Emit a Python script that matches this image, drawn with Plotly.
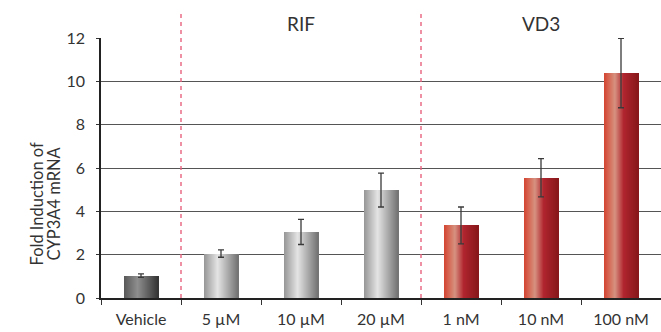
import plotly.graph_objects as go

categories = ["Vehicle", "5 µM", "10 µM", "20 µM", "1 nM", "10 nM", "100 nM"]
values = [1.03, 2.05, 3.05, 4.98, 3.35, 5.55, 10.38]
errors = [0.08, 0.17, 0.58, 0.78, 0.85, 0.88, 1.6]
groups = ["veh", "rif", "rif", "rif", "vd3", "vd3", "vd3"]
ytitle_lines = ["Fold Induction of", "CYP3A4 mRNA"]

gradients = {
    "veh": [(0.0, (88, 88, 88)), (0.4, (142, 142, 142)), (1.0, (52, 52, 52))],
    "rif": [(0.0, (150, 150, 150)), (0.4, (228, 228, 228)), (1.0, (114, 114, 114))],
    "vd3": [(0.0, (212, 68, 48)), (0.32, (214, 146, 128)), (0.58, (176, 36, 46)), (1.0, (135, 24, 26))],
}

def grad_color(stops, t):
    for (p0, c0), (p1, c1) in zip(stops[:-1], stops[1:]):
        if p0 <= t <= p1:
            f = (t - p0) / (p1 - p0)
            c = [round(a + (b - a) * f) for a, b in zip(c0, c1)]
            return "rgb(%d,%d,%d)" % tuple(c)
    c = stops[-1][1]
    return "rgb(%d,%d,%d)" % c

fig = go.Figure()
bar_w = 0.425
n = 34
step = bar_w / n
for i in range(n):
    t = (i + 0.5) / n
    fig.add_trace(go.Bar(
        x=categories, y=values,
        width=step * 1.15, offset=-bar_w / 2 + i * step,
        marker=dict(color=[grad_color(gradients[g], t) for g in groups], line=dict(width=0)),
        showlegend=False, hoverinfo="skip",
    ))

fig.add_trace(go.Scatter(
    x=categories, y=values, mode="markers",
    marker=dict(size=1, opacity=0),
    error_y=dict(type="data", array=errors, color="#3a3a3a", thickness=1.3, width=3),
    showlegend=False,
))

for xpos in [0.5, 3.5]:
    fig.add_shape(type="line", xref="x", yref="paper", x0=xpos, x1=xpos, y0=0, y1=1.108,
                  line=dict(color="#e8637f", width=1.4, dash="4px,4px"))

fig.add_annotation(x=2, xref="x", y=1.057, yref="paper", text="RIF", showarrow=False,
                   font=dict(size=19, color="#333"), yanchor="middle")
fig.add_annotation(x=5, xref="x", y=1.057, yref="paper", text="VD3", showarrow=False,
                   font=dict(size=19, color="#333"), yanchor="middle")

for xp, line in zip([-0.1143, -0.0839], ytitle_lines):
    fig.add_annotation(x=xp, xref="paper", y=0.3635, yref="paper", text=line, textangle=-90,
                       showarrow=False, font=dict(size=16.5, color="#333"),
                       xanchor="center", yanchor="middle")

fig.update_layout(
    width=661, height=332,
    margin=dict(l=101, r=0, t=38, b=34, autoexpand=False),
    barmode="overlay", bargap=0,
    plot_bgcolor="white", paper_bgcolor="white",
    font=dict(family="Lato", size=14, color="#333"),
    xaxis=dict(type="category", tickson="boundaries", ticks="outside", ticklen=5,
               tickcolor="#333", showline=True, linecolor="#222", linewidth=1.5,
               showgrid=False, tickfont=dict(size=16, color="#333"), range=[-0.5, 6.5],
               ticklabelstandoff=6, automargin=False),
    yaxis=dict(range=[0, 12], tickvals=[0, 2, 4, 6, 8, 10, 12], ticks="outside", ticklen=3,
               tickcolor="#333", showline=True, linecolor="#222", linewidth=1.5,
               showgrid=True, gridcolor="#555", gridwidth=1, zeroline=False,
               tickfont=dict(size=16, color="#333"), ticklabelstandoff=8, automargin=False),
)

fig.write_html("out.html", post_script="document.body.style.margin='0';",
               config={"displayModeBar": False})
